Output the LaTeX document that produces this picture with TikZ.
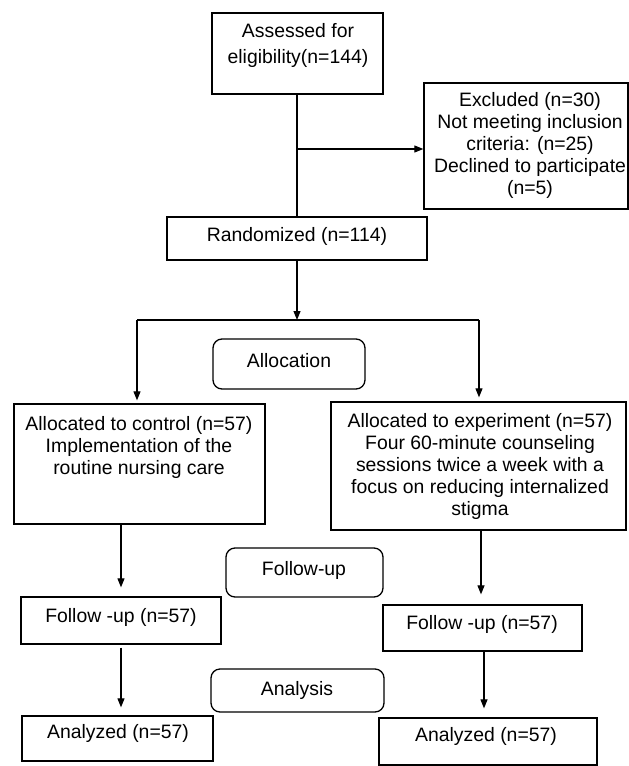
\documentclass[tikz,border=0pt]{standalone}
\usepackage{fontspec}
\setmainfont{Liberation Sans}
\usetikzlibrary{arrows.meta}
\begin{document}
\begin{tikzpicture}[x=1pt,y=-1pt,
 box/.style={draw, line width=1.3pt, inner sep=0pt, rectangle},
 rbox/.style={box, rounded corners=9pt},
 txt/.style={align=center, font=\fontsize{19.4}{22}\selectfont, inner sep=0pt},
 arr/.style={line width=1.1pt, -{Triangle[length=9pt,width=7pt]}},
 ln/.style={line width=1.1pt}]
\useasboundingbox (0,0) rectangle (629,766);
% boxes
\node[box, minimum width=171pt, minimum height=81pt] (assess) at (297.5,53.5) {};
\node[box, minimum width=204pt, minimum height=126pt] (excl) at (526,146) {};
\node[box, minimum width=260pt, minimum height=43pt] (rand) at (297,238.5) {};
\node[rbox, minimum width=152pt, minimum height=50pt] (alloc) at (289,364) {};
\node[box, minimum width=251pt, minimum height=120pt] (ctrl) at (139.5,464) {};
\node[box, minimum width=295pt, minimum height=128pt] (exp) at (478.5,466) {};
\node[rbox, minimum width=157pt, minimum height=49pt] (fup) at (304.5,572.5) {};
\node[box, minimum width=200pt, minimum height=47pt] (fl) at (121,620.5) {};
\node[box, minimum width=199pt, minimum height=46pt] (fr) at (482.5,628) {};
\node[rbox, minimum width=173pt, minimum height=43pt] (ana) at (297.5,690.5) {};
\node[box, minimum width=191pt, minimum height=45pt] (al) at (117.5,738.5) {};
\node[box, minimum width=218pt, minimum height=47pt] (ar) at (488,741.5) {};
% texts
\node[txt] (tassess) at (298,45) {Assessed for\\[4pt]eligibility(n=144)};
\node[txt] (texcl) at (530,145.5) {Excluded (n=30)\\Not meeting inclusion\\criteria: (n=25)\\Declined to participate\\(n=5)};
\node[txt] (trand) at (297,236) {Randomized (n=114)};
\node[txt] (talloc) at (289,361) {Allocation};
\node[txt] (tctrl) at (139,447) {Allocated to control (n=57)\\Implementation of the\\routine nursing care};
\node[txt] (texp) at (480,466.5) {Allocated to experiment (n=57)\\Four 60-minute counseling\\sessions twice a week with a\\focus on reducing internalized\\stigma};
\node[txt] (tfup) at (304,570) {Follow-up};
\node[txt] (tfl) at (121,617) {Follow -up (n=57)};
\node[txt] (tfr) at (482,624) {Follow -up (n=57)};
\node[txt] (tana) at (297,690) {Analysis};
\node[txt] (tal) at (118,733) {Analyzed (n=57)};
\node[txt] (tar) at (486,736) {Analyzed (n=57)};
% connectors
\coordinate (jx) at (297,149);
\coordinate (br) at (297,320);
\coordinate (bl) at (137,320);
\coordinate (bR) at (479,320);
\draw[ln] (assess.south -| jx) -- (jx |- rand.north);
\draw[arr] (jx) -- (jx -| excl.west);
\draw[arr] (rand.south -| br) -- (br);
\draw[line width=1.6pt] (bl) -- (bR);
\draw[arr, shorten >=3pt] (bl) -- (bl |- ctrl.north);
\draw[arr, shorten >=4pt] (bR) -- (bR |- exp.north);
\draw[arr, shorten >=9pt] (ctrl.south -| fl.north) -- (fl.north);
\draw[arr, shorten >=10pt] (exp.south -| 481,0) -- (fr.north -| 481,0);
\draw[arr, shorten <=3pt, shorten >=8pt] (fl.south) -- (fl.south |- al.north);
\draw[arr, shorten >=9pt] (fr.south -| 484,0) -- (ar.north -| 484,0);
\end{tikzpicture}
\end{document}
